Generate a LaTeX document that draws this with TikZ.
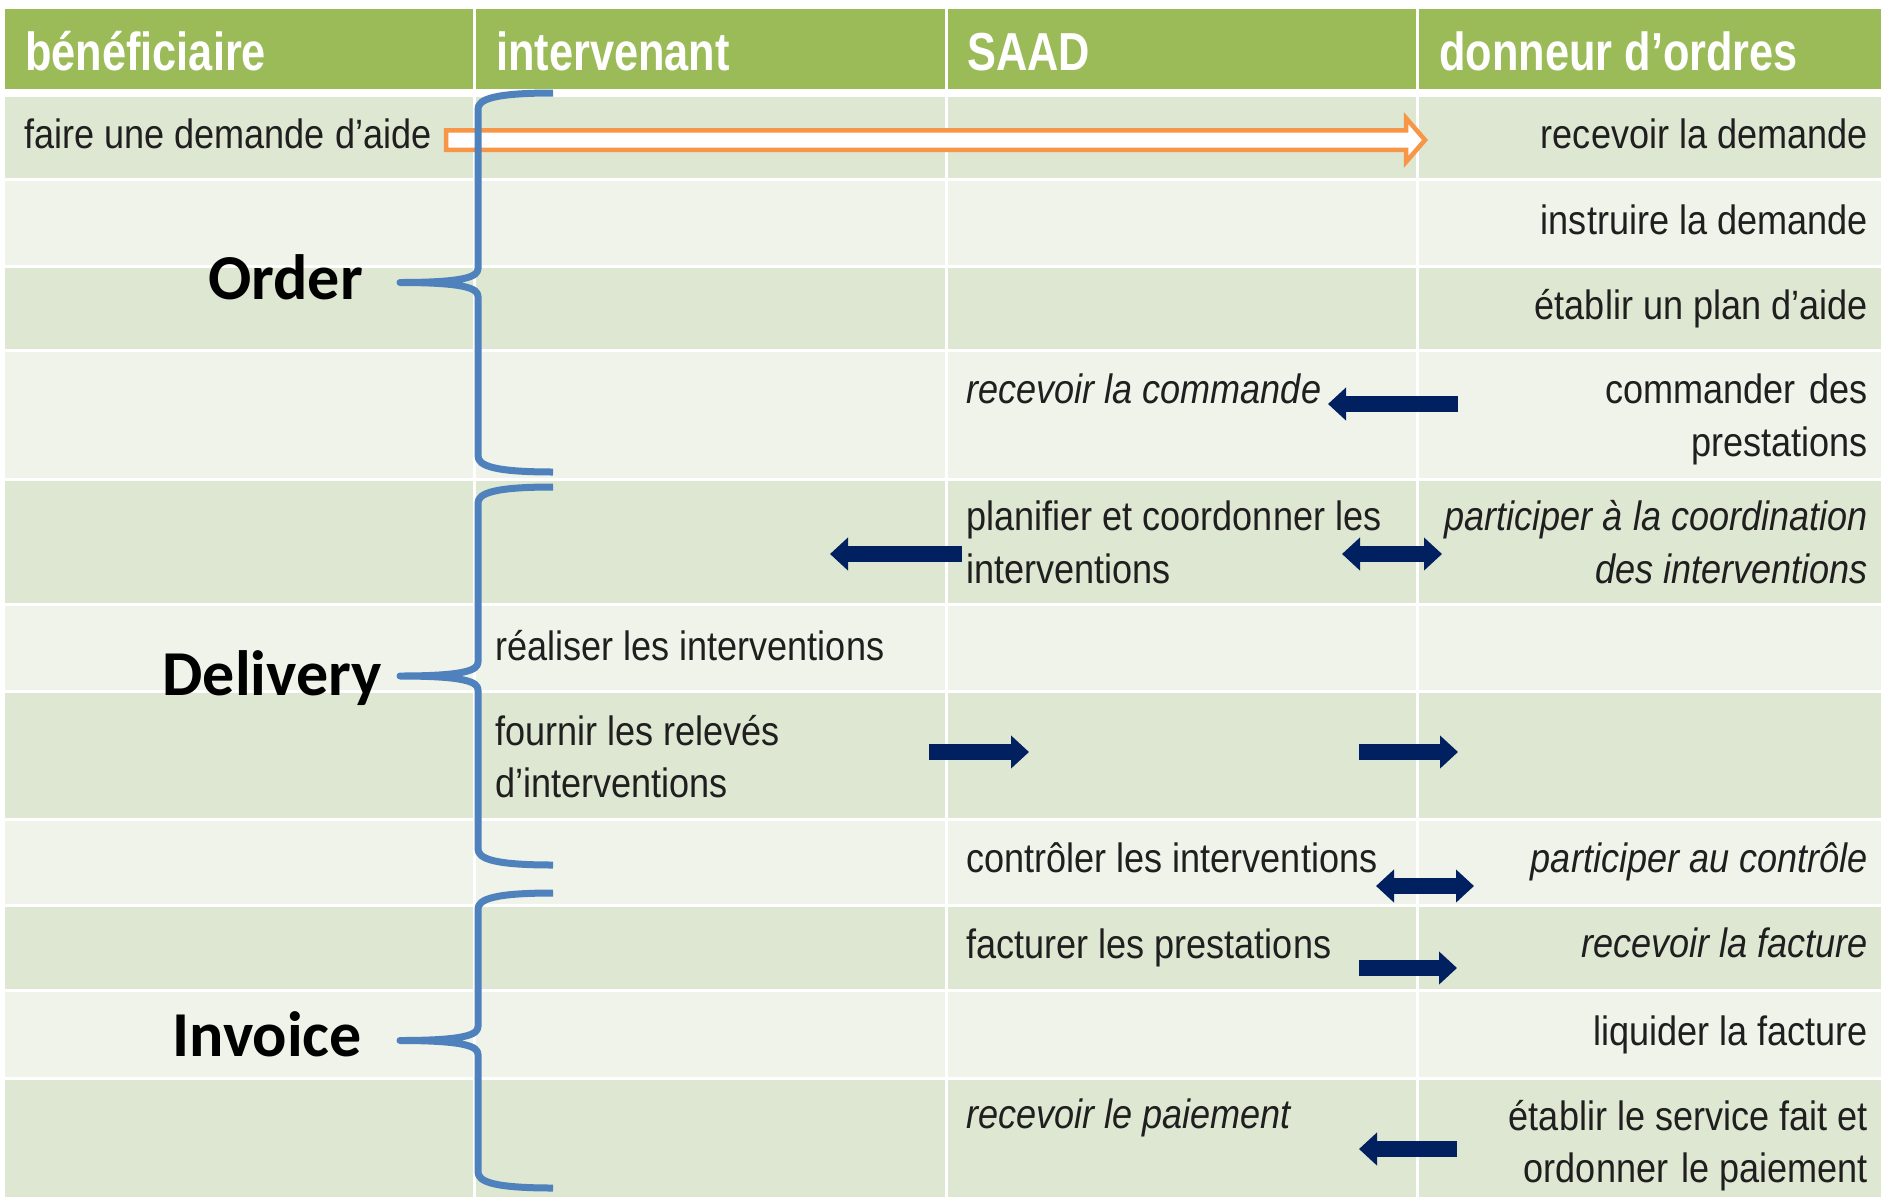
\documentclass[tikz,border=0pt]{standalone}
\usepackage{fontspec}
\setmainfont{Liberation Sans}[FakeStretch=0.88]
\newfontfamily\hdfont{Liberation Sans}[FakeStretch=0.81]
\newfontfamily\labelfont{Carlito}
\usetikzlibrary{arrows.meta,calc}
\definecolor{hdr}{HTML}{9BBB59}
\definecolor{rowA}{HTML}{DEE7D1}
\definecolor{rowB}{HTML}{EFF3E9}
\definecolor{bracec}{HTML}{4F81BD}
\definecolor{navy}{HTML}{002060}
\definecolor{orng}{HTML}{F79646}
\newcommand\mybrace[3]{%
  \draw[bracestyle] (553,#1) .. controls (495,#1) and (478,#1+6) .. (478,#1+16)
    -- (478,#2-14) .. controls (478,#2-6) and (466,#2) .. (400,#2)
    .. controls (466,#2) and (478,#2+6) .. (478,#2+14)
    -- (478,#3-16) .. controls (478,#3-6) and (495,#3) .. (553,#3);}
\begin{document}
\begin{tikzpicture}[x=1pt,y=-1pt,
  txt/.style={inner sep=0pt, font=\fontsize{41}{53}\selectfont, text=black!88},
  itxt/.style={txt, font=\fontsize{41}{53}\selectfont\itshape},
  hd/.style={inner sep=0pt, font=\hdfont\bfseries\fontsize{53.5}{60}\selectfont, text=white},
  lbl/.style={inner sep=0pt, font=\labelfont\bfseries\fontsize{64}{70}\selectfont, text=black},
  navyarrow/.style={draw=navy, line width=16pt, -{Triangle[width=32pt,length=18pt]}},
  navydbl/.style={draw=navy, line width=16pt, {Triangle[width=32pt,length=18pt]}-{Triangle[width=32pt,length=18pt]}},
  bracestyle/.style={draw=bracec, line width=7pt, line join=round},
  sep/.style={draw=white, line width=3pt}
]
\useasboundingbox (0,0) rectangle (1881,1197);
\fill[white] (0,0) rectangle (1881,1197);
% header and rows
\fill[hdr] (5,9) rectangle (1881,89);
\fill[rowA] (5,97) rectangle (1881,178);
\fill[rowB] (5,181) rectangle (1881,265);
\fill[rowA] (5,268) rectangle (1881,349);
\fill[rowB] (5,352) rectangle (1881,478);
\fill[rowA] (5,481) rectangle (1881,603);
\fill[rowB] (5,606) rectangle (1881,690);
\fill[rowA] (5,693) rectangle (1881,818);
\fill[rowB] (5,821) rectangle (1881,904);
\fill[rowA] (5,907) rectangle (1881,989);
\fill[rowB] (5,992) rectangle (1881,1077);
\fill[rowA] (5,1080) rectangle (1881,1197);
\draw[sep] (474,9) -- (474,1197);
\draw[sep] (946,9) -- (946,1197);
\draw[sep] (1417,9) -- (1417,1197);
% header texts
\node[hd, anchor=base west] (h1) at (25,70) {bénéficiaire};
\node[hd, anchor=base west] (h2) at (496,70) {intervenant};
\node[hd, anchor=base west] (h3) at (967,70) {SAAD};
\node[hd, anchor=base west] (h4) at (1439,70) {donneur d’ordres};
% body texts
\node[txt, anchor=base west] (t1) at (24,148) {faire une demande d’aide};
\node[txt, anchor=base east] (t2) at (1868,148) {recevoir la demande};
\node[txt, anchor=base east] (t3) at (1868,234) {instruire la demande};
\node[txt, anchor=base east] (t4) at (1868,319) {établir un plan d’aide};
\node[txt, anchor=base east] (t5a) at (1868,403) {commander\hspace{4pt} des};
\node[txt, anchor=base east] (t5b) at (1868,456) {prestations};
\node[itxt, anchor=base west] (t6) at (966,403) {recevoir la commande};
\node[txt, anchor=base west] (t7a) at (966,530) {planifier et coordonner les};
\node[txt, anchor=base west] (t7b) at (966,583) {interventions};
\node[itxt, anchor=base east] (t8a) at (1868,530) {participer à la coordination};
\node[itxt, anchor=base east] (t8b) at (1868,583) {des interventions};
\node[txt, anchor=base west] (t9) at (495,660) {réaliser les interventions};
\node[txt, anchor=base west] (t10a) at (495,745) {fournir les relevés};
\node[txt, anchor=base west] (t10b) at (495,797) {d’interventions};
\node[txt, anchor=base west] (t11) at (966,872) {contrôler les interventions};
\node[itxt, anchor=base east] (t12) at (1868,872) {participer au contrôle};
\node[txt, anchor=base west] (t13) at (966,958) {facturer les prestations};
\node[itxt, anchor=base east] (t14) at (1868,957) {recevoir la facture};
\node[txt, anchor=base east] (t15) at (1868,1045) {liquider la facture};
\node[itxt, anchor=base west] (t16) at (966,1128) {recevoir le paiement};
\node[txt, anchor=base east] (t17a) at (1868,1130) {établir le service fait et};
\node[txt, anchor=base east] (t17b) at (1868,1182) {ordonner\hspace{3pt} le paiement};
% orange hollow arrow
\coordinate (oa) at (446,140);
\coordinate (ob) at (1425,140);
\draw[orng, line width=4.5pt, fill=white, line join=miter]
  ($(oa)+(0,-9.75)$) -- ($(ob)+(-19,-9.75)$) -- ($(ob)+(-19,-22)$) -- (ob)
  -- ($(ob)+(-19,22)$) -- ($(ob)+(-19,9.75)$) -- ($(oa)+(0,9.75)$) -- cycle;
% navy arrows
\coordinate (a1s) at (1458,404); \coordinate (a1e) at (1328,404);
\coordinate (a2s) at (962,554);  \coordinate (a2e) at (830,554);
\coordinate (a3s) at (1342,554); \coordinate (a3e) at (1442,554);
\coordinate (a4s) at (929,752);  \coordinate (a4e) at (1029,752);
\coordinate (a5s) at (1359,752); \coordinate (a5e) at (1458,752);
\coordinate (a6s) at (1376,886); \coordinate (a6e) at (1474,886);
\coordinate (a7s) at (1359,968); \coordinate (a7e) at (1457,968);
\coordinate (a8s) at (1457,1149); \coordinate (a8e) at (1359,1149);
\draw[navyarrow] (a1s) -- (a1e);
\draw[navyarrow] (a2s) -- (a2e);
\draw[navydbl] (a3s) -- (a3e);
\draw[navyarrow] (a4s) -- (a4e);
\draw[navyarrow] (a5s) -- (a5e);
\draw[navydbl] (a6s) -- (a6e);
\draw[navyarrow] (a7s) -- (a7e);
\draw[navyarrow] (a8s) -- (a8e);
% braces
\mybrace{93}{282.5}{472}
\mybrace{487}{676}{865}
\mybrace{893}{1040.5}{1188}
% brace labels
\node[lbl, anchor=base east] (lo) at (363,299) {Order};
\node[lbl, anchor=base east] (ld) at (382,695) {Delivery};
\node[lbl, anchor=base east] (li) at (362,1056) {Invoice};
\end{tikzpicture}
\end{document}
